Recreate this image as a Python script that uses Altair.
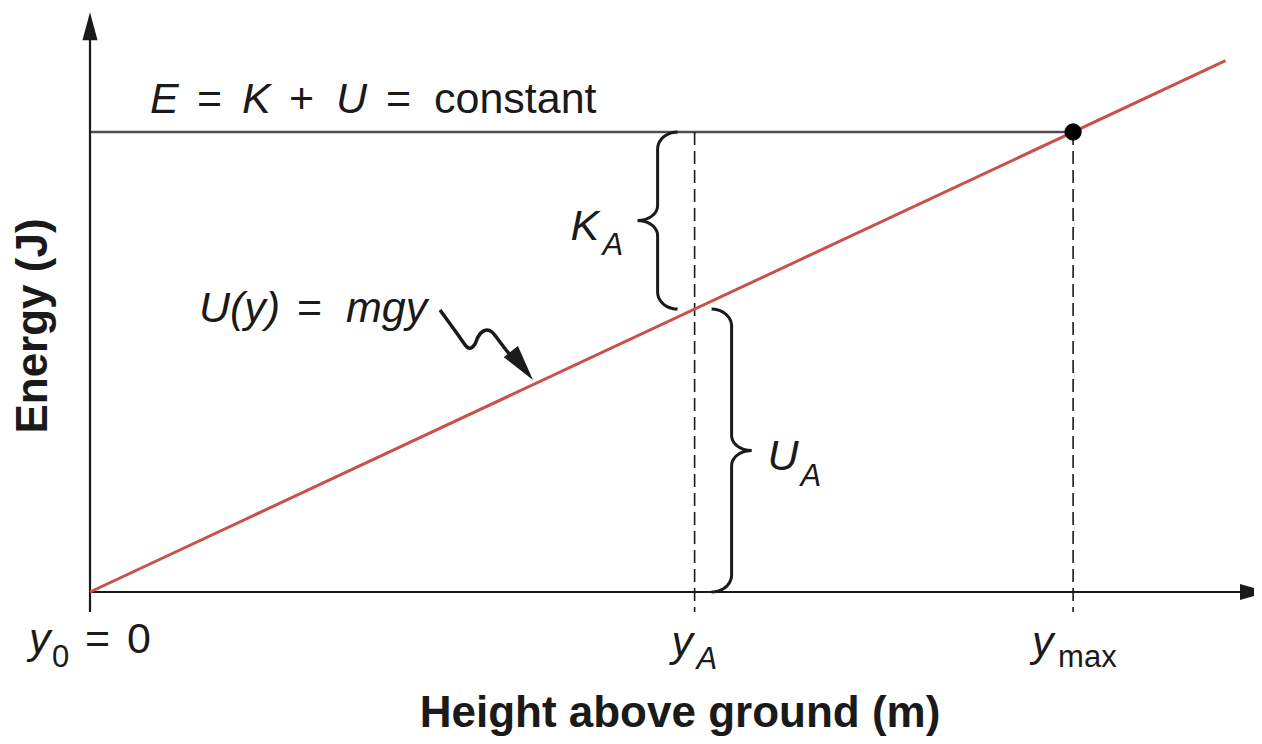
import math
import altair as alt
import pandas as pd

# ---------------- data ----------------
line_height = [0.0, 11.55]        # height y (m) along the U(y) line
line_energy = [0.0, 11.55]        # U(y) = mgy (J)
E_total = 10.0                    # E = K + U = constant
y_A = 6.15                        # marked height y_A
y_max = 10.0                      # maximum height
U_A = 6.15                        # U at y_A
axis_x_end = 11.84                # end of height axis (arrow, cut at the edge)
axis_y_end = 12.3                 # end of energy axis (arrow)

# ---------------- layout ----------------
W, H = 1164, 575
XMAX, YMAX = 11.84, 12.5
PXU, PYU = W / XMAX, H / YMAX
FONT = "Liberation Sans"
INK = "#1a1a1a"
RED = "#c9514c"

xs = alt.Scale(domain=[0, XMAX], nice=False, zero=False)
ys = alt.Scale(domain=[0, YMAX], nice=False, zero=False)


def X(f):
    return alt.X(f, type="quantitative", scale=xs, axis=None)


def Y(f):
    return alt.Y(f, type="quantitative", scale=ys, axis=None)


below = -20 / PYU  # lines reach 20px below the height axis

# red U(y) line
df_line = pd.DataFrame({"h": line_height, "u": line_energy})
red_line = alt.Chart(df_line).mark_line(color=RED, strokeWidth=3).encode(x=X("h"), y=Y("u"))

# total energy line
df_E = pd.DataFrame({"x0": [0.0], "x1": [y_max], "e": [E_total]})
e_line = alt.Chart(df_E).mark_rule(color="#4d4d4d", strokeWidth=2.5).encode(
    x=X("x0"), x2="x1", y=Y("e"))

# dashed verticals
df_dash = pd.DataFrame({"x": [y_A, y_max], "top": [E_total, E_total], "bot": [below, below]})
dashes = alt.Chart(df_dash).mark_rule(color=INK, strokeWidth=1.6, strokeDash=[13, 6]).encode(
    x=X("x"), y=Y("top"), y2="bot")

# axes
df_yax = pd.DataFrame({"x": [0.0], "a": [below], "b": [axis_y_end]})
y_axis = alt.Chart(df_yax).mark_rule(color=INK, strokeWidth=2.2).encode(x=X("x"), y=Y("a"), y2="b")
df_xax = pd.DataFrame({"y": [0.0], "a": [0.0], "b": [axis_x_end]})
x_axis = alt.Chart(df_xax).mark_rule(color=INK, strokeWidth=2.2).encode(y=Y("y"), x=X("a"), x2="b")

df_yarrow = pd.DataFrame({"x": [0.0], "y": [axis_y_end]})
y_arrow = alt.Chart(df_yarrow).mark_point(
    shape="M0,-1L0.54,1L-0.54,1Z", filled=True, size=784, color=INK, opacity=1, strokeWidth=0
).encode(x=X("x"), y=Y("y"))
df_xarrow = pd.DataFrame({"x": [axis_x_end], "y": [0.0]})
x_arrow = alt.Chart(df_xarrow).mark_point(
    shape="M1,0L-1,-0.57L-1,0.57Z", filled=True, size=784, color=INK, opacity=1, strokeWidth=0
).encode(x=X("x"), y=Y("y"))

# point at y_max
df_dot = pd.DataFrame({"x": [y_max], "y": [E_total]})
dot = alt.Chart(df_dot).mark_circle(size=300, color="black", opacity=1).encode(x=X("x"), y=Y("y"))


# braces
def brace(name, stem_x, y_top, y_bot, direction, a_tip=20, a_pt=20, r_tip=17, r_pt=15):
    L = (y_top - y_bot) * PYU
    mid = L / 2
    pts = []

    def arc(cx, cy, a, r, t0, t1, n=10):
        for k in range(n + 1):
            t = math.radians(t0 + (t1 - t0) * k / n)
            pts.append((cx + a * math.cos(t), cy + r * math.sin(t)))

    arc(a_tip, r_tip, a_tip, r_tip, -90, -180)
    arc(-a_pt, mid - r_pt, a_pt, r_pt, 0, 90)
    arc(-a_pt, mid + r_pt, a_pt, r_pt, -90, 0)
    arc(a_tip, L - r_tip, a_tip, r_tip, 180, 90)
    rows = []
    for i, (ox, oy) in enumerate(pts):
        rows.append({"b": name, "i": i, "x": stem_x + direction * ox / PXU, "y": y_top - oy / PYU})
    return rows


df_br = pd.DataFrame(
    brace("K", y_A - 37 / PXU, E_total, U_A, 1) + brace("U", y_A + 37 / PXU, U_A, 0.0, -1)
)
braces = alt.Chart(df_br).mark_line(color=INK, strokeWidth=3, interpolate="linear").encode(
    x=X("x"), y=Y("y"), detail="b:N", order="i:Q")

# squiggle arrow pointing at the U(y) line
tip_h, tip_u = (533 - 90) / PXU, (592 - 380) / PYU
squig_off = [(-93, -70), (-85, -59), (-77, -48), (-70, -38), (-66, -33), (-62, -32), (-58, -36),
             (-55, -43), (-51, -48), (-46, -50), (-41, -48), (-36, -42), (-30, -34), (-23, -25)]
df_sq = pd.DataFrame({
    "i": list(range(len(squig_off))),
    "x": [tip_h + ox / PXU for ox, oy in squig_off],
    "y": [tip_u - oy / PYU for ox, oy in squig_off],
})
squiggle = alt.Chart(df_sq).mark_line(color=INK, strokeWidth=3.5, interpolate="cardinal").encode(
    x=X("x"), y=Y("y"), order="i:Q")
ang = 52
df_sqh = pd.DataFrame({
    "x": [tip_h - 18 * math.cos(math.radians(ang)) / PXU],
    "y": [tip_u + 18 * math.sin(math.radians(ang)) / PYU],
})
sq_head = alt.Chart(df_sqh).mark_point(
    shape="M1,0L-1,-0.5L-1,0.5Z", filled=True, size=1296, angle=ang, color=INK, opacity=1, strokeWidth=0
).encode(x=X("x"), y=Y("y"))

# text pieces: (text, anchor x, anchor y, px offset x, px offset y (down), style)
K_mid = (E_total + U_A) / 2
U_mid = U_A / 2
pieces = [
    ("E", 0.0, E_total, 60, -19, "it"), ("=", 0.0, E_total, 107, -19, "rm"),
    ("K", 0.0, E_total, 152, -19, "it"), ("+", 0.0, E_total, 199, -19, "rm"),
    ("U", 0.0, E_total, 246, -19, "it"), ("=", 0.0, E_total, 296, -19, "rm"),
    ("constant", 0.0, E_total, 344, -19, "rm"),
    ("K", y_A, K_mid, -124, 19, "it"), ("A", y_A, K_mid, -92, 34, "itsub"),
    ("U", y_A, U_mid, 73, 19, "it"), ("A", y_A, U_mid, 106, 35, "itsub"),
    ("U(y)", tip_h, tip_u, -334, -58, "it"), ("=", tip_h, tip_u, -236, -58, "rm"),
    ("mgy", tip_h, tip_u, -187, -58, "it"),
    ("y", 0.0, 0.0, -61, 61, "it"), ("0", 0.0, 0.0, -38, 75, "rmsub"),
    ("=", 0.0, 0.0, -5, 61, "rm"), ("0", 0.0, 0.0, 37, 61, "rm"),
    ("y", y_A, 0.0, -23, 64, "it"), ("A", y_A, 0.0, 2, 77, "itsub"),
    ("y", y_max, 0.0, -41, 64, "it"), ("max", y_max, 0.0, -15, 75, "rmsub"),
]
df_txt = pd.DataFrame([
    {"t": t, "x": ax + ox / PXU, "y": ay - oy / PYU, "s": s} for t, ax, ay, ox, oy, s in pieces
])

styles = {
    "it": dict(fontSize=43, fontStyle="italic"),
    "rm": dict(fontSize=43),
    "itsub": dict(fontSize=31, fontStyle="italic"),
    "rmsub": dict(fontSize=31),
}
text_layers = []
for s, kw in styles.items():
    text_layers.append(
        alt.Chart(df_txt[df_txt.s == s]).mark_text(
            align="left", baseline="alphabetic", font=FONT, color=INK, **kw
        ).encode(x=X("x"), y=Y("y"), text="t:N")
    )

# axis titles
df_xt = pd.DataFrame({"t": ["Height above ground (m)"], "x": [(680 - 90) / PXU], "y": [(592 - 727) / PYU]})
x_title = alt.Chart(df_xt).mark_text(
    align="center", baseline="alphabetic", font=FONT, fontSize=44, fontWeight="bold", color=INK
).encode(x=X("x"), y=Y("y"), text="t:N")
df_yt = pd.DataFrame({"t": ["Energy (J)"], "x": [(47 - 90) / PXU], "y": [(592 - 326) / PYU]})
y_title = alt.Chart(df_yt).mark_text(
    align="center", baseline="alphabetic", font=FONT, fontSize=44, fontWeight="bold", color=INK, angle=270
).encode(x=X("x"), y=Y("y"), text="t:N")

chart = alt.layer(
    e_line, dashes, y_axis, x_axis, y_arrow, x_arrow, red_line, braces, squiggle, sq_head, dot,
    *text_layers, x_title, y_title
).properties(
    width=W, height=H,
    padding={"left": 82, "top": 9, "right": 0, "bottom": 144},
    autosize=alt.AutoSizeParams(type="none"),
    background="white",
).configure_view(stroke=None)

chart.save("out.html", embed_options={"renderer": "svg", "actions": False})
